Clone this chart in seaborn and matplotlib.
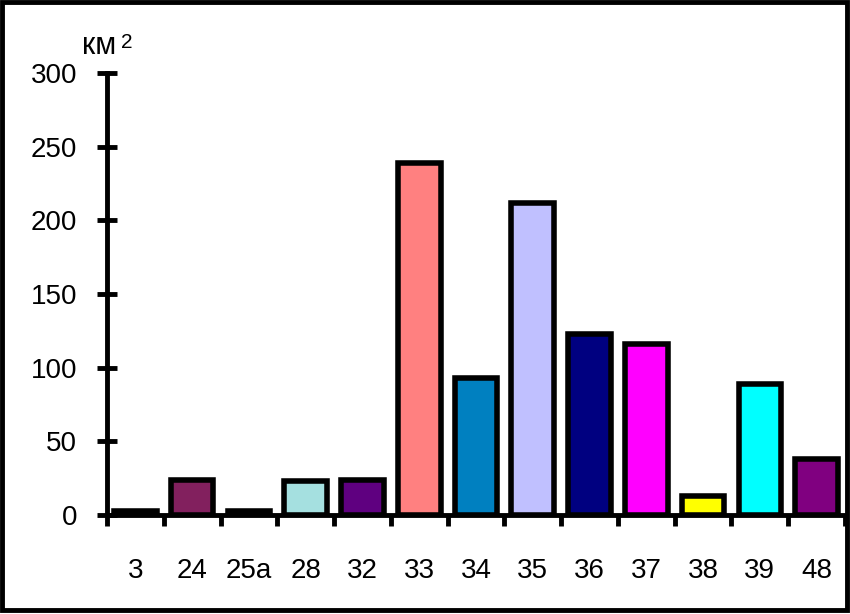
import matplotlib
matplotlib.use("Agg")
import matplotlib.pyplot as plt
import seaborn as sns
import pandas as pd
from matplotlib.patches import Rectangle
from matplotlib.ticker import FixedLocator

categories = ["3", "24", "25а", "28", "32", "33", "34", "35", "36", "37", "38", "39", "48"]
values = [3, 24, 3, 23, 24, 239, 93, 212, 123, 116, 13, 89, 38]
colors = ["#9999FF", "#82205E", "#FFFFCC", "#A5E0E0", "#5F0080", "#FF8080", "#0080C0",
          "#C0C0FF", "#000080", "#FF00FF", "#FFFF00", "#00FFFF", "#800080"]
yticks = [0, 50, 100, 150, 200, 250, 300]

sns.set_style("white")
plt.rcParams["font.family"] = ["Liberation Sans", "DejaVu Sans"]
plt.rcParams["text.color"] = "black"
plt.rcParams["xtick.color"] = "black"
plt.rcParams["ytick.color"] = "black"
plt.rcParams["xtick.labelcolor"] = "black"
plt.rcParams["ytick.labelcolor"] = "black"

df = pd.DataFrame({"cat": categories, "val": values})

fig = plt.figure(figsize=(8.5, 6.14), dpi=100)
ax = fig.add_axes([107 / 850, 99 / 614, 738 / 850, 442 / 614])

sns.barplot(data=df, x="cat", y="val", hue="cat", palette=colors, order=categories,
            hue_order=categories, legend=False, width=0.75, edgecolor="black",
            linewidth=4, saturation=1, ax=ax, zorder=2)

ax.set_xlim(-0.5, len(categories) - 0.5)
ax.set_ylim(0, 300)
ax.set_yticks(yticks)
ax.set_yticklabels([str(v) for v in yticks], fontsize=20, color="black")
ax.set_xticks(range(len(categories)))
ax.set_xticklabels(categories, fontsize=20, color="black")
ax.xaxis.set_minor_locator(FixedLocator([i - 0.5 for i in range(len(categories) + 1)]))
ax.tick_params(axis="x", which="major", bottom=True, length=0, pad=31)
ax.tick_params(axis="x", which="minor", bottom=True, direction="out", length=8,
               width=3.5, color="black")
ax.tick_params(axis="y", which="major", left=True, direction="inout", length=15,
               width=3.5, color="black", pad=14)
ax.set_xlabel("")
ax.set_ylabel("")

for s in ["top", "right"]:
    ax.spines[s].set_visible(False)
for s in ["left", "bottom"]:
    ax.spines[s].set_linewidth(3.5)
    ax.spines[s].set_color("black")
    ax.spines[s].set_zorder(3)
ax.set_facecolor("white")

# unit label
fig.text(82 / 850, 1 - 54 / 614, "км", fontsize=22, ha="left", va="baseline")
fig.text(121 / 850, 1 - 48 / 614, "2", fontsize=15, ha="left", va="baseline")

# figure frame
fig.patches.append(Rectangle((2 / 850, 4 / 614), 845 / 850, 608.5 / 614,
                             transform=fig.transFigure, fill=False,
                             edgecolor="black", linewidth=3.5, figure=fig))

fig.savefig("out.png", dpi=100)
